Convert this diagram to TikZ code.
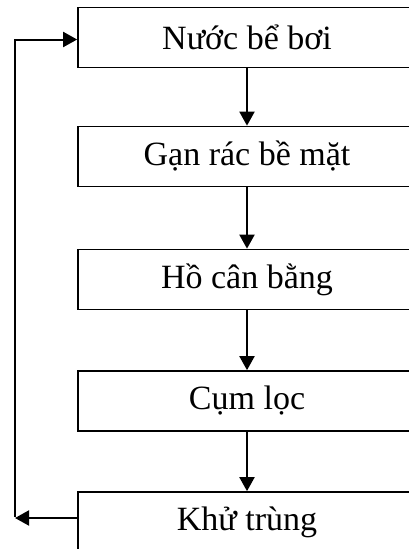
\documentclass[tikz,border=0pt]{standalone}
\usepackage{fontspec}
\setmainfont{Liberation Serif}
\usetikzlibrary{arrows.meta}
\begin{document}
\begin{tikzpicture}[x=1pt,y=-1pt,
  stepbox/.style={draw, line width=1.7pt, minimum width=338pt, minimum height=60pt,
    inner sep=0pt, font=\fontsize{34}{40}\selectfont},
  flow/.style={line width=2pt, -{Triangle[length=14pt,width=15pt]}}]
  \useasboundingbox (0,0) rectangle (409,549);
  \clip (0,0) rectangle (409,549);
  \node[stepbox] (b1) at (247,37.5) {Nước bể bơi};
  \node[stepbox] (b2) at (247,156.5) {Gạn rác bề mặt};
  \node[stepbox] (b3) at (247,279.5) {Hồ cân bằng};
  \node[stepbox] (b4) at (247,401) {Cụm lọc};
  \node[stepbox] (b5) at (247,522) {Khử trùng};
  \draw[flow] (b1) -- (b2);
  \draw[flow] (b2) -- (b3);
  \draw[flow] (b3) -- (b4);
  \draw[flow] (b4) -- (b5);
  % return loop on the left
  \coordinate (out) at (78,518);
  \coordinate (low) at (15,518);
  \coordinate (up) at (15,39.5);
  \draw[flow] (out) -- (low);
  \draw[flow] ([yshift=1pt]low) -- (up) -- (b1.west |- up);
\end{tikzpicture}
\end{document}
